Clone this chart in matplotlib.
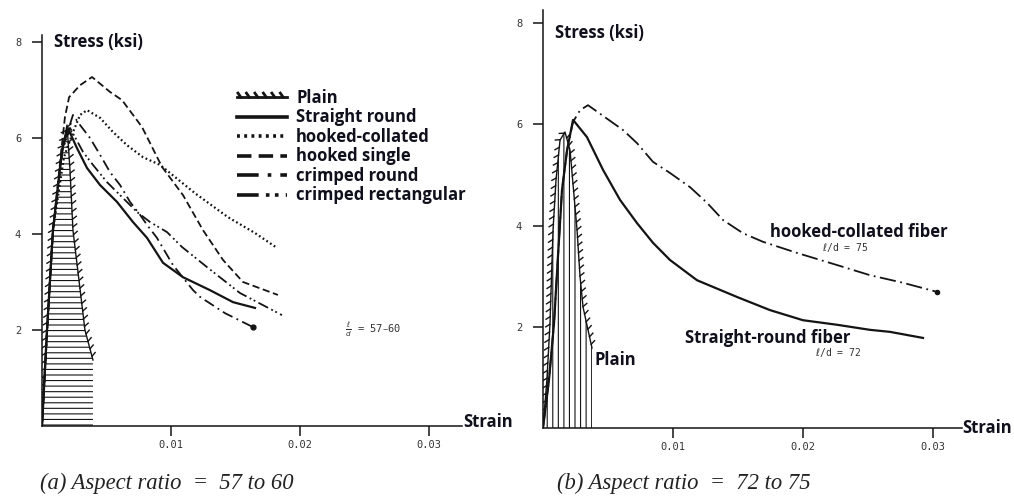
import matplotlib
matplotlib.use("Agg")
import matplotlib.pyplot as plt
from matplotlib import patheffects

# ---- data (strain, stress in ksi) ----
# (a) aspect ratio 57 to 60
plain_a_strain = [0, 0.0004, 0.00085, 0.00155, 0.00194, 0.00217, 0.0024, 0.00333, 0.00395]
plain_a_stress = [0, 2.0, 4.08, 5.75, 6.27, 5.33, 4.08, 2.0, 1.375]

straight_a_strain = [0, 0.00039, 0.00085, 0.00155, 0.002, 0.00271, 0.00349, 0.0045, 0.00581,
                     0.00705, 0.00814, 0.00938, 0.01093, 0.01302, 0.01481, 0.01651]
straight_a_stress = [0, 2.0, 4.08, 5.75, 6.21, 5.79, 5.375, 5.02, 4.67,
                     4.25, 3.92, 3.40, 3.10, 2.83, 2.58, 2.46]

collated_a_strain = [0, 0.00039, 0.00085, 0.0017, 0.0024, 0.00295, 0.00349, 0.0045, 0.0055,
                     0.00659, 0.00783, 0.00915, 0.01186, 0.01442, 0.01651, 0.01822]
collated_a_stress = [0, 2.0, 4.08, 5.6, 6.12, 6.48, 6.58, 6.42, 6.125,
                     5.85, 5.6, 5.44, 4.85, 4.35, 4.02, 3.71]

single_a_strain = [0, 0.00039, 0.00085, 0.0015, 0.00178, 0.0021, 0.00295, 0.00388, 0.00527,
                   0.0062, 0.00775, 0.0093, 0.01093, 0.01248, 0.01403, 0.01558, 0.01829]
single_a_stress = [0, 2.0, 4.08, 5.75, 6.44, 6.85, 7.1, 7.27, 6.96,
                   6.79, 6.23, 5.40, 4.81, 4.08, 3.46, 3.0, 2.73]

crimp_round_a_strain = [0, 0.00039, 0.00085, 0.0016, 0.0024, 0.00295, 0.00372, 0.0045, 0.00527,
                        0.00605, 0.00682, 0.0076, 0.00814, 0.00891, 0.01016, 0.01171,
                        0.01225, 0.01419, 0.01636]
crimp_round_a_stress = [0, 2.0, 4.08, 5.8, 6.48, 6.27, 6.0, 5.65, 5.29,
                        5.02, 4.67, 4.40, 4.19, 3.92, 3.35, 2.83,
                        2.69, 2.35, 2.06]

crimp_rect_a_strain = [0, 0.00039, 0.00085, 0.0016, 0.00217, 0.00318, 0.00395, 0.00504, 0.00605,
                       0.00736, 0.00837, 0.00969, 0.01085, 0.01279, 0.01535, 0.0186]
crimp_rect_a_stress = [0, 2.0, 4.08, 5.75, 6.21, 5.71, 5.44, 5.08, 4.81,
                       4.46, 4.25, 4.04, 3.73, 3.31, 2.77, 2.31]

# (b) aspect ratio 72 to 75
plain_b_strain = [0, 0.0003, 0.00054, 0.00077, 0.001, 0.00131, 0.00169, 0.00208, 0.00262,
                  0.00285, 0.00308, 0.00346, 0.00377]
plain_b_stress = [0, 0.95, 2.08, 3.91, 4.9, 5.69, 5.85, 5.49, 3.91,
                  2.99, 2.39, 1.94, 1.58]

straight_b_strain = [0, 0.00046, 0.00085, 0.00115, 0.00146, 0.00185, 0.00231, 0.00338, 0.00462,
                     0.00592, 0.00723, 0.00846, 0.00977, 0.01185, 0.01492, 0.01746,
                     0.02, 0.02262, 0.02515, 0.02669, 0.02923]
straight_b_stress = [0, 0.95, 2.08, 3.38, 4.70, 5.49, 6.09, 5.75, 5.10,
                     4.51, 4.05, 3.66, 3.32, 2.92, 2.59, 2.33,
                     2.13, 2.04, 1.94, 1.90, 1.78]

collated_b_strain = [0, 0.00046, 0.00085, 0.00115, 0.00146, 0.00185, 0.00231, 0.00285, 0.00346,
                     0.00538, 0.00615, 0.00723, 0.00846, 0.00977, 0.01131, 0.01262,
                     0.01385, 0.01538, 0.01692, 0.01954, 0.02262, 0.02515, 0.02769, 0.03031]
collated_b_stress = [0, 0.95, 2.08, 3.38, 4.70, 5.49, 6.05, 6.28, 6.38,
                     6.03, 5.89, 5.63, 5.26, 5.04, 4.76, 4.45,
                     4.11, 3.85, 3.68, 3.46, 3.22, 3.02, 2.87, 2.69]

legend_labels = ["Plain", "Straight round", "hooked-collated", "hooked single",
                 "crimped round", "crimped rectangular"]
x_ticks = [0.01, 0.02, 0.03]
x_tick_labels = ["0.01", "0.02", "0.03"]
y_ticks = [2, 4, 6, 8]
y_tick_labels = ["2", "4", "6", "8"]

INK = "#141414"
SANS = ["Open Sans", "DejaVu Sans"]
BOLD = dict(family=SANS, weight="bold", color="#10101c")
MONO = dict(family="DejaVu Sans Mono", color="#333333")
FS = 12

plt.rcParams["hatch.linewidth"] = 0.8
plt.rcParams["mathtext.fontset"] = "dejavusans"

fig = plt.figure(figsize=(10.14, 4.97), dpi=100)
ax_a = fig.add_axes([42 / 1014, 71 / 497, 420 / 1014, 391 / 497])
ax_b = fig.add_axes([543 / 1014, 69 / 497, 419 / 1014, 418 / 497])
ax_a.set_xlim(0, 420 / 12900)
ax_a.set_ylim(0, 391 / 48)
ax_b.set_xlim(0, 419 / 13000)
ax_b.set_ylim(0, 418 / 50.6)

for ax in (ax_a, ax_b):
    for side in ("top", "right"):
        ax.spines[side].set_visible(False)
    for side in ("left", "bottom"):
        ax.spines[side].set_linewidth(1.1)
        ax.spines[side].set_color(INK)
    ax.set_xticks(x_ticks, x_tick_labels, fontsize=7.5, **MONO)
    ax.set_yticks(y_ticks, y_tick_labels, fontsize=7.5, **MONO)
    ax.tick_params(axis="y", length=7, width=1.1, color=INK, pad=8)
    ax.tick_params(axis="x", length=7, width=1.1, color=INK, pad=3)

ticked = [patheffects.withTickedStroke(spacing=5.5, angle=125, length=0.65)]
lw = 1.3

# ---- panel (a) ----
ax_a.fill(plain_a_strain + [plain_a_strain[-1]], plain_a_stress + [0],
          facecolor="none", edgecolor=INK, linewidth=0, hatch="---")
ax_a.plot(plain_a_strain, plain_a_stress, color=INK, lw=1.0, path_effects=ticked,
          label=legend_labels[0])
ax_a.plot(straight_a_strain, straight_a_stress, color=INK, lw=1.6, label=legend_labels[1])
ax_a.plot(collated_a_strain, collated_a_stress, color=INK, lw=1.6,
          linestyle=(0, (0.8, 1.2)), label=legend_labels[2])
ax_a.plot(single_a_strain, single_a_stress, color=INK, lw=lw,
          linestyle=(0, (4, 2)), label=legend_labels[3])
ax_a.plot(crimp_round_a_strain, crimp_round_a_stress, color=INK, lw=lw,
          linestyle=(0, (6, 2.5, 1, 2.5)), marker="o", markersize=3.5,
          markevery=[len(crimp_round_a_strain) - 1], label=legend_labels[4])
ax_a.plot(crimp_rect_a_strain, crimp_rect_a_stress, color=INK, lw=lw,
          linestyle=(0, (6, 2, 1, 1.5, 1, 2)), label=legend_labels[5])

leg = ax_a.legend(loc="upper left", bbox_to_anchor=(195 / 420, 1 - 54 / 391),
                  frameon=False, handlelength=3.0, handletextpad=0.55,
                  labelspacing=0.09, borderpad=0, borderaxespad=0,
                  prop=dict(family=SANS, weight="bold", size=FS))
for text in leg.get_texts():
    text.set_color("#10101c")
for handle in leg.legend_handles:
    handle.set_linewidth(2.6)
    handle.set_marker("")
leg.legend_handles[0].set_linewidth(2.0)

ax_a.text(0.00093, 8.0, "Stress (ksi)", fontsize=FS, va="center", **BOLD)
ax_a.text(1.002, 0.01, "Strain", transform=ax_a.transAxes, fontsize=FS,
          va="center", ha="left", **BOLD)
ax_a.text(0.0235, 2.0, r"$\frac{\ell}{d}$ = 57–60", fontsize=7.5, va="center", **MONO)

# ---- panel (b) ----
ax_b.fill_between(plain_b_strain, 0, plain_b_stress, facecolor="none",
                  edgecolor=INK, linewidth=0, hatch="|||")
ax_b.plot(plain_b_strain, plain_b_stress, color=INK, lw=1.0, path_effects=ticked)
ax_b.plot(straight_b_strain, straight_b_stress, color=INK, lw=1.6)
ax_b.plot(collated_b_strain, collated_b_stress, color=INK, lw=lw,
          linestyle=(0, (9, 2.5, 1, 2.5)), marker="o", markersize=3,
          markevery=[len(collated_b_strain) - 1])

ax_b.text(0.00092, 7.8, "Stress (ksi)", fontsize=FS, va="center", **BOLD)
ax_b.text(1.0, 0.0, "Strain", transform=ax_b.transAxes, fontsize=FS,
          va="center", ha="left", **BOLD)
ax_b.text(0.01746, 3.87, "hooked-collated fiber", fontsize=FS, va="center", **BOLD)
ax_b.text(0.02146, 3.56, r"$\ell$/d = 75", fontsize=7, va="center", **MONO)
ax_b.text(0.01092, 1.78, "Straight-round fiber", fontsize=FS, va="center", **BOLD)
ax_b.text(0.02092, 1.50, r"$\ell$/d = 72", fontsize=7, va="center", **MONO)
ax_b.text(0.004, 1.34, "Plain", fontsize=FS, va="center", **BOLD)

# ---- captions ----
cap = dict(family="Liberation Serif", style="italic", fontsize=16.3, color="#222222",
           va="center", ha="left")
fig.text(40 / 1014, 1 - 483 / 497, "(a) Aspect ratio  =  57 to 60", **cap)
fig.text(557 / 1014, 1 - 483 / 497, "(b) Aspect ratio  =  72 to 75", **cap)

fig.savefig("out.png", dpi=100)
